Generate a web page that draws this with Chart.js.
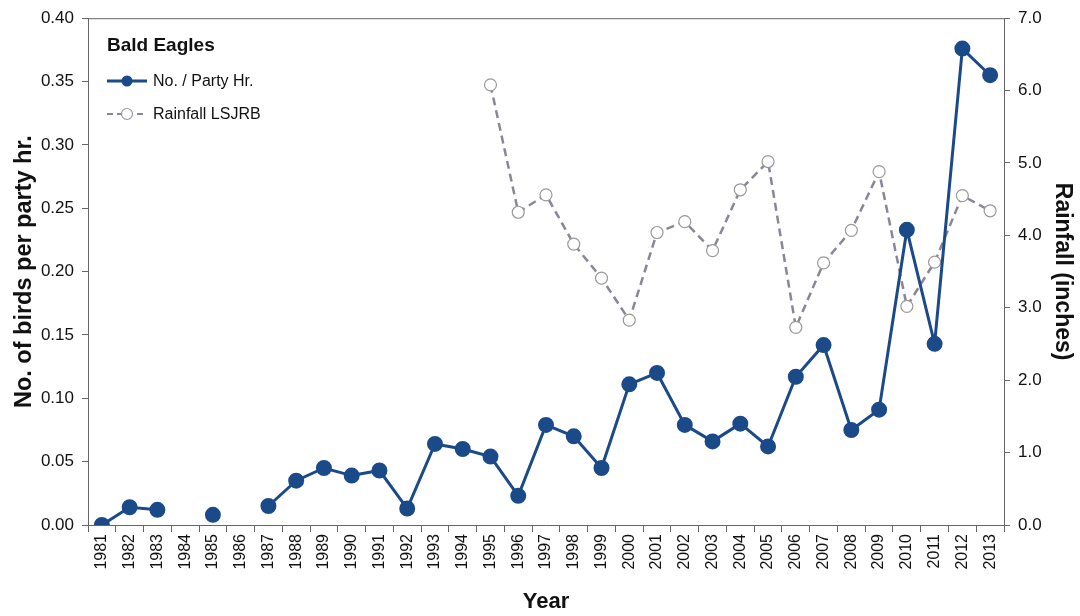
<!DOCTYPE html>
<html>
<head>
<meta charset="utf-8">
<script src="https://cdn.jsdelivr.net/npm/chart.js@4"></script>
<style>
  html, body { margin: 0; padding: 0; background: #fff; }
  #wrap { width: 1080px; height: 616px; }
</style>
</head>
<body>
<div id="wrap"><canvas id="container" width="1080" height="616"></canvas></div>
<script>
const years = ['1981','1982','1983','1984','1985','1986','1987','1988','1989','1990','1991',
  '1992','1993','1994','1995','1996','1997','1998','1999','2000','2001','2002','2003',
  '2004','2005','2006','2007','2008','2009','2010','2011','2012','2013'];

// birds per party hour (left axis)
const birdsPerHour = [0.000, 0.014, 0.012, null, 0.008, null, 0.015, 0.035, 0.045, 0.039, 0.043,
  0.013, 0.064, 0.060, 0.054, 0.023, 0.079, 0.070, 0.045, 0.111, 0.120, 0.079, 0.066,
  0.080, 0.062, 0.117, 0.142, 0.075, 0.091, 0.233, 0.143, 0.376, 0.355];

// rainfall in inches, LSJRB (right axis)
const rainfall = [null, null, null, null, null, null, null, null, null, null, null,
  null, null, null, 6.08, 4.32, 4.56, 3.88, 3.41, 2.83, 4.04, 4.19, 3.79,
  4.63, 5.02, 2.73, 3.62, 4.07, 4.88, 3.02, 3.63, 4.55, 4.34];

const BLUE = '#1b4a88';
const GREY = '#8b8696';
const FONT = 'Liberation Sans, Arial, sans-serif';

// legend inside the plot, top-left, plus the frame line on top
const insideLegend = {
  id: 'insideLegend',
  afterDraw(chart) {
    const c = chart.ctx;
    const a = chart.chartArea;
    c.save();
    c.strokeStyle = '#666';
    c.lineWidth = 1;
    c.beginPath();
    c.moveTo(a.left, a.top + 0.5);
    c.lineTo(a.right, a.top + 0.5);
    c.stroke();

    const x0 = a.left + 19;
    c.fillStyle = '#111';
    c.textBaseline = 'middle';
    c.font = 'bold 19px ' + FONT;
    c.fillText('Bald Eagles', x0, 46);

    c.font = '16px ' + FONT;
    // entry 1
    c.strokeStyle = BLUE;
    c.lineWidth = 3;
    c.beginPath(); c.moveTo(x0, 81); c.lineTo(x0 + 40, 81); c.stroke();
    c.fillStyle = BLUE;
    c.beginPath(); c.arc(x0 + 20, 81, 5.5, 0, Math.PI * 2); c.fill();
    c.fillStyle = '#111';
    c.fillText('No. / Party Hr.', x0 + 46, 82);
    // entry 2
    c.strokeStyle = GREY;
    c.lineWidth = 2.2;
    c.setLineDash([6, 4]);
    c.beginPath(); c.moveTo(x0, 114); c.lineTo(x0 + 40, 114); c.stroke();
    c.setLineDash([]);
    c.fillStyle = '#fff';
    c.strokeStyle = '#999';
    c.lineWidth = 1.2;
    c.beginPath(); c.arc(x0 + 20, 114, 5.5, 0, Math.PI * 2); c.fill(); c.stroke();
    c.fillStyle = '#111';
    c.fillText('Rainfall LSJRB', x0 + 46, 115);
    c.restore();
  }
};

new Chart(document.getElementById('container'), {
  type: 'line',
  data: {
    labels: years,
    datasets: [
      {
        label: 'No. / Party Hr.',
        data: birdsPerHour,
        yAxisID: 'y',
        borderColor: BLUE,
        backgroundColor: BLUE,
        borderWidth: 3,
        pointRadius: 6.5,
        pointBackgroundColor: BLUE,
        pointBorderColor: BLUE,
        spanGaps: false,
        order: 0
      },
      {
        label: 'Rainfall LSJRB',
        data: rainfall,
        yAxisID: 'y1',
        borderColor: GREY,
        borderWidth: 2.5,
        borderDash: [8, 5],
        pointRadius: 6,
        pointBackgroundColor: '#fff',
        pointBorderColor: '#999',
        pointBorderWidth: 1.2,
        order: 1
      }
    ]
  },
  options: {
    responsive: false,
    animation: false,
    layout: { padding: { top: 17, left: 10, right: 0, bottom: 0 } },
    plugins: { legend: { display: false }, tooltip: { enabled: false } },
    scales: {
      x: {
        offset: true,
        grid: { offset: true, drawOnChartArea: false, drawTicks: true, tickLength: 7, color: '#666' },
        border: { color: '#666', width: 1 },
        ticks: { color: '#111', font: { family: FONT, size: 16 }, maxRotation: 90, minRotation: 90, autoSkip: false, padding: 2 },
        title: { display: true, text: 'Year', color: '#111', font: { family: FONT, size: 22, weight: 'bold' }, padding: { top: 0, bottom: 1 } },
        afterFit(s) { s.height = 91; }
      },
      y: {
        position: 'left',
        min: 0, max: 0.40,
        ticks: { stepSize: 0.05, color: '#111', font: { family: FONT, size: 17 }, padding: 8, callback: v => v.toFixed(2) },
        grid: { drawOnChartArea: false, drawTicks: true, tickLength: 6, color: '#666' },
        border: { color: '#666', width: 1 },
        title: { display: true, text: 'No. of birds per party hr.', color: '#111', font: { family: FONT, size: 23.5, weight: 'bold' }, padding: { top: 0, bottom: 2 } },
        afterFit(s) { s.width = 78; }
      },
      y1: {
        position: 'right',
        min: 0, max: 7,
        ticks: { stepSize: 1, color: '#111', font: { family: FONT, size: 17 }, padding: 8, callback: v => v.toFixed(1) },
        grid: { drawOnChartArea: false, drawTicks: true, tickLength: 6, color: '#666' },
        border: { color: '#666', width: 1 },
        title: { display: true, text: 'Rainfall (inches)', color: '#111', font: { family: FONT, size: 23, weight: 'bold' }, padding: { top: 4, bottom: 0 } },
        afterFit(s) { s.width = 76; }
      }
    }
  },
  plugins: [insideLegend]
});
</script>
</body>
</html>
